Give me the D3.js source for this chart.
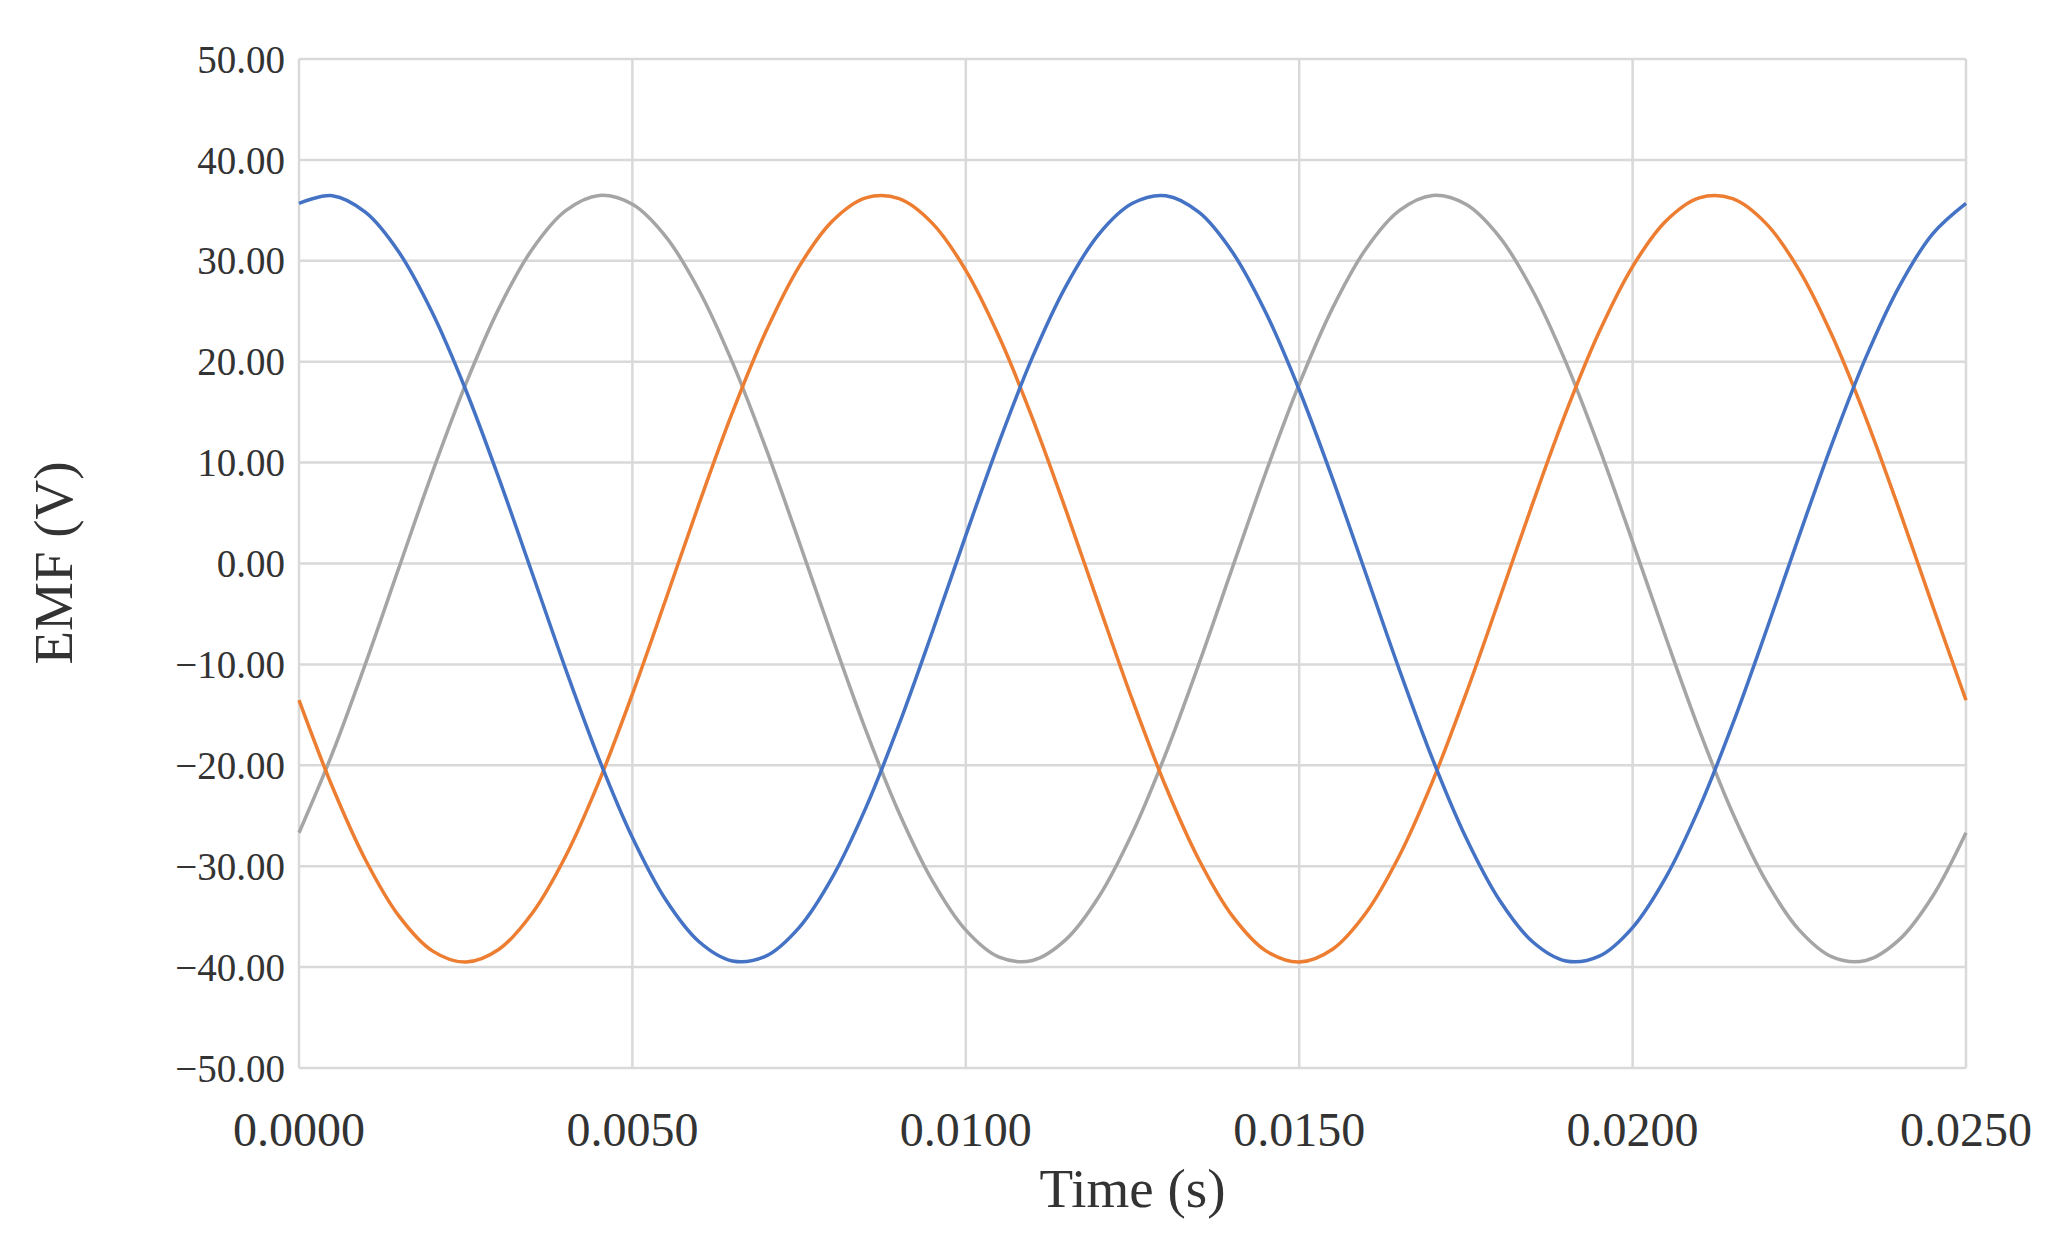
<!DOCTYPE html>
<html><head><meta charset="utf-8">
<script src="https://cdn.jsdelivr.net/npm/d3@7/dist/d3.min.js"></script>
<style>body{margin:0;background:#fff}</style></head>
<body><svg id="c" width="2055" height="1253"></svg>
<script>
const times = d3.range(51).map(k => k * 0.0005);
const blueCycle = [35.7,36.45,34.79,30.84,24.85,17.22,8.41,-1.02,-10.49,-19.39,-27.16,-33.33,-37.49,-39.39,-38.91,-36.08,-31.08,-24.22,-15.93,-6.74,2.79,12.04,20.45,27.47,32.68];
const grayCycle = [-26.69,-18.82,-9.87,-0.39,9.03,17.77,25.31,31.17,34.97,36.48,35.60,32.40,27.06,19.93,11.45,2.16,-7.36,-16.52,-24.73,-31.46,-36.34,-39.02,-39.34,-37.28,-32.98];
const orangeCycle = [-13.55,-22.13,-29.41,-34.95,-38.39,-39.50,-38.23,-34.64,-28.99,-21.59,-12.94,-3.57,5.93,14.97,22.96,29.43,33.95,36.24,36.16,33.71,29.06,22.47,14.39,5.31,-4.20];
const blue = [...blueCycle, ...blueCycle, blueCycle[0]];
const gray = [...grayCycle, ...grayCycle, grayCycle[0]];
const orange = [...orangeCycle, ...orangeCycle, orangeCycle[0]];
const xTicks = [0, 0.005, 0.01, 0.015, 0.02, 0.025];
const yTicks = [-50,-40,-30,-20,-10,0,10,20,30,40,50];

const svg = d3.select("#c");
const L=299,R=1966,T=59,B=1068;
const x = d3.scaleLinear().domain([0,0.025]).range([L,R]);
const y = d3.scaleLinear().domain([-50,50]).range([B,T]);
const g = svg.append("g");
g.selectAll(".hg").data(yTicks).join("line").attr("x1",L).attr("x2",R)
 .attr("y1",d=>y(d)).attr("y2",d=>y(d)).attr("stroke","#d9d9d9").attr("stroke-width",2.5);
g.selectAll(".vg").data(xTicks).join("line").attr("y1",T).attr("y2",B)
 .attr("x1",d=>x(d)).attr("x2",d=>x(d)).attr("stroke","#d9d9d9").attr("stroke-width",2.5);
const fmtY = d => (d<0?"\u2212":"") + Math.abs(d).toFixed(2);
svg.selectAll(".yl").data(yTicks).join("text").attr("x",L-14).attr("y",d=>y(d)).attr("dy","0.35em")
 .attr("text-anchor","end").attr("font-family","Liberation Serif").attr("font-size",39).attr("fill","#333").text(fmtY);
svg.selectAll(".xl").data(xTicks).join("text").attr("x",d=>x(d)).attr("y",1146)
 .attr("text-anchor","middle").attr("font-family","Liberation Serif").attr("font-size",48).attr("fill","#333").text(d=>d.toFixed(4));
svg.append("text").attr("x",(L+R)/2).attr("y",1207).attr("text-anchor","middle").attr("font-family","Liberation Serif")
 .attr("font-size",55).attr("fill","#333").text("Time (s)");
svg.append("text").attr("transform","translate(72,563) rotate(-90)").attr("text-anchor","middle").attr("font-family","Liberation Serif")
 .attr("font-size",55).attr("fill","#333").text("EMF (V)");
const line = d3.line().x((d,i)=>x(times[i])).y(d=>y(d)).curve(d3.curveCatmullRom);
[[gray,"#A5A5A5"],[orange,"#ED7D31"],[blue,"#4472C4"]].forEach(([s,c])=>{
 svg.append("path").attr("d",line(s)).attr("fill","none").attr("stroke",c).attr("stroke-width",3.5);
});
</script></body></html>
